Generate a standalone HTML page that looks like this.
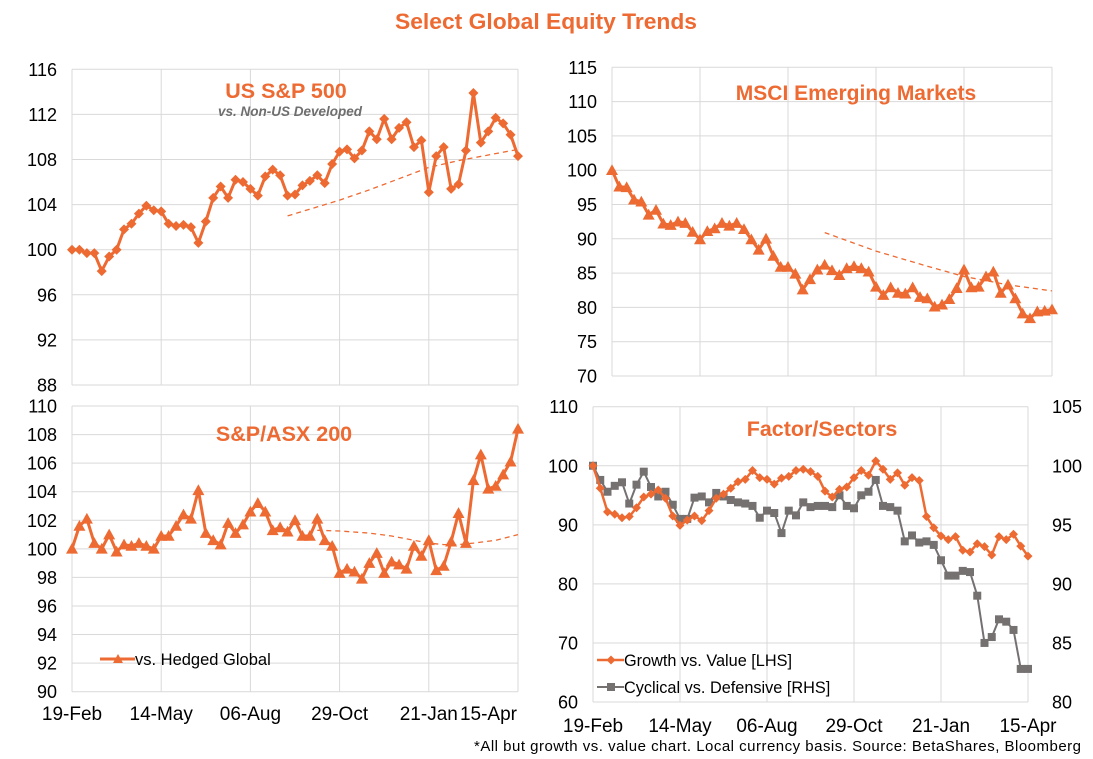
<!DOCTYPE html>
<html><head><meta charset="utf-8"><style>
html,body{margin:0;padding:0;background:#fff}
svg{display:block;font-family:"Liberation Sans",Arial,sans-serif}
</style></head><body>
<svg id="c" width="1093" height="759" viewBox="0 0 1093 759">
<text x="546" y="29" text-anchor="middle" font-size="22" font-weight="bold" fill="#ED6A32" textLength="302" lengthAdjust="spacingAndGlyphs">Select Global Equity Trends</text>
<text x="474" y="751" font-size="15" fill="#000" textLength="607" lengthAdjust="spacing">*All but growth vs. value chart.  Local currency basis.  Source: BetaShares, Bloomberg</text>
</svg>
<script>
const xTickLabels = ["19-Feb","14-May","06-Aug","29-Oct","21-Jan","15-Apr"];
const usSeries = [100,100,99.7,99.7,98.1,99.4,100,101.8,102.3,103.2,103.9,103.5,103.4,102.3,102.1,102.2,102,100.6,102.5,104.6,105.6,104.6,106.2,106,105.4,104.8,106.5,107.1,106.6,104.8,104.9,105.7,106.1,106.6,105.9,107.6,108.7,108.9,108.1,108.8,110.5,109.8,111.6,109.8,110.8,111.3,109.1,109.7,105.1,108.3,109.1,105.4,105.8,108.8,113.9,109.5,110.5,111.7,111.2,110.2,108.3];
const usTrendIdx = [29,33,36,40,44,48,52,56,60];
const usTrend = [103.0,103.8,104.4,105.3,106.3,107.3,107.9,108.4,108.9];
const emSeries = [100,97.6,97.5,95.7,95.4,93.5,94.2,92.2,92,92.5,92.3,91,89.9,91.1,91.5,92.3,91.9,92.3,91.4,89.9,88.4,90,87.5,85.9,85.9,84.9,82.6,84.1,85.5,86.2,85.4,84.7,85.7,86,85.7,85.2,83,81.8,82.9,82.1,82,82.9,81.5,81.3,80.1,80.4,81.2,82.8,85.5,82.9,83,84.5,85.2,82.1,83.3,81.3,79.1,78.4,79.4,79.5,79.7];
const emTrendIdx = [29,36,43,48,54,60];
const emTrend = [90.9,88.2,86.0,84.5,83.3,82.4];
const asxSeries = [100,101.6,102.1,100.4,100,101,99.8,100.3,100.2,100.4,100.2,100,100.9,100.9,101.6,102.4,102.1,104.1,101.1,100.6,100.3,101.8,101.1,101.7,102.6,103.2,102.6,101.3,101.5,101.2,102,100.9,100.9,102.1,100.6,100.2,98.3,98.6,98.4,97.9,99,99.7,98.3,99.1,98.9,98.6,100.2,99.5,100.6,98.5,98.8,100.5,102.5,100.4,104.8,106.6,104.2,104.4,105.2,106.1,108.4];
const asxTrendIdx = [33,36,40,43,46,48,50,52,54,57,60];
const asxTrend = [101.3,101.25,101.1,100.9,100.6,100.4,100.3,100.3,100.4,100.6,101.0];
const growthSeries = [100,96.2,92.2,91.8,91.2,91.4,92.9,94.7,95.2,95.9,94.5,91.5,89.9,90.8,91.5,90.7,92.4,94.5,95.2,96.2,97.3,97.7,99.2,98,97.7,96.9,97.9,98.2,99.2,99.4,99,98.2,95.7,94.7,96,96.4,98,99.2,98.4,100.8,99.4,97.7,98.8,96.7,98,97.5,91.4,89.5,88.1,87.5,88,85.7,85.4,86.8,86.3,84.9,88,87.5,88.4,86.4,84.7];
const cyclicalSeries = [100,98.8,97.8,98.3,98.6,96.8,98.4,99.5,98.2,97.4,97.8,96.7,95.5,95.5,97.3,97.4,96.9,97.7,97.4,97.1,96.9,96.8,96.6,95.6,96.2,96,94.3,96.2,95.8,96.9,96.5,96.6,96.6,96.5,97.5,96.6,96.4,97.5,97.8,98.8,96.6,96.5,96.2,93.6,94.1,93.5,93.6,93.3,92,90.7,90.7,91.1,91,89,85,85.5,87,86.8,86.1,82.8,82.8];

const NS="http://www.w3.org/2000/svg";
const svg=document.getElementById('c');
const OR="#ED6A32", GR="#767171", GRID="#D9D9D9";
function mk(tag,attrs,parent){const e=document.createElementNS(NS,tag);for(const k in attrs)e.setAttribute(k,attrs[k]);(parent||svg).appendChild(e);return e;}
function panel(p){
  const g=mk('g',{});
  
  
  const xs=i=>p.x0+(p.x1-p.x0)*i/60;
  const ys=v=>p.y0+(p.y1-p.y0)*(p.ymax-v)/(p.ymax-p.ymin);
  p.xs=xs;p.ys=ys;
  for(let v=p.ymin;v<=p.ymax+1e-9;v+=p.ystep){
    const l=mk('line',{x1:p.x0,x2:p.x1,y1:ys(v),y2:ys(v),stroke:GRID,'stroke-width':1},g);
    
    
    const t=mk('text',{x:p.lx,y:ys(v)+6.5,'text-anchor':'end','font-size':18,fill:'#000'},g);
    t.textContent=v;
    
    
  }
  for(let k=0;k<xTickLabels.length;k++){
    const x=xs(k*12);
    const l=mk('line',{x1:x,x2:x,y1:p.y0,y2:p.y1,stroke:GRID,'stroke-width':1},g);
    
    
    if(p.xlab){
      const last=(k===xTickLabels.length-1)&&p.lastEnd;
      const t=mk('text',{x:last?x-1:x,y:p.xlab,'text-anchor':last?'end':'middle','font-size':19,fill:'#000'},g);
      t.textContent=xTickLabels[k];
      
      
    }
  }
  return g;
}
function series(g,xs,ys,data,color,w,marker,ms,name){
  const pts=data.map((v,i)=>xs(i).toFixed(1)+','+ys(v).toFixed(1)).join(' ');
  const pl=mk('polyline',{points:pts,fill:'none',stroke:color,'stroke-width':w,'stroke-linejoin':'round'},g);
  
  
  data.forEach((v,i)=>{drawMarker(g,xs(i),ys(v),color,marker,ms,name);});
}
function drawMarker(g,x,y,color,marker,s,name){
  let m;
  if(marker==='d')m=mk('polygon',{points:`${x},${y-s} ${x+s},${y} ${x},${y+s} ${x-s},${y}`,fill:color},g);
  else if(marker==='t')m=mk('polygon',{points:`${x},${y-s} ${x+s},${y+s*0.8} ${x-s},${y+s*0.8}`,fill:color},g);
  else m=mk('rect',{x:x-s,y:y-s,width:2*s,height:2*s,fill:color},g);
  
  
}
function trend(g,xs,ys,idx,vals,name){
  const pts=idx.map((i,k)=>xs(i).toFixed(1)+','+ys(vals[k]).toFixed(1)).join(' ');
  const pl=mk('polyline',{points:pts,fill:'none',stroke:OR,'stroke-width':1.3,'stroke-dasharray':'5,4'},g);
  
  
}
function title(g,x,y,txt,size,extra,name){
  const t=mk('text',Object.assign({x:x,y:y,'text-anchor':'middle','font-size':size,'font-weight':'bold',fill:OR},extra||{}),g);
  t.textContent=txt;
  
  
}
// Panel 1
let p1={name:'us-sp500-panel',x0:72,x1:518,y0:69.3,y1:385,ymin:88,ymax:116,ystep:4,lx:57};
let g1=panel(p1);
trend(g1,p1.xs,p1.ys,usTrendIdx,usTrend,'us-trendline');
series(g1,p1.xs,p1.ys,usSeries,OR,3,'d',5,'us-sp500');
title(g1,286,98,'US  S&P 500',21.5,{},'us-panel-title');
title(g1,290,116,'vs. Non-US Developed',13.5,{fill:'#6E6E6E','font-style':'italic'},'us-panel-subtitle');
// Panel 2
let p2={name:'msci-em-panel',x0:612,x1:1052,y0:67.3,y1:376,ymin:70,ymax:115,ystep:5,lx:597};
let g2=panel(p2);
trend(g2,p2.xs,p2.ys,emTrendIdx,emTrend,'em-trendline');
series(g2,p2.xs,p2.ys,emSeries,OR,3,'t',6,'msci-em');
title(g2,856,100,'MSCI Emerging Markets',21,{},'em-panel-title');
// Panel 3
let p3={name:'asx200-panel',x0:72,x1:518,y0:406,y1:691.7,ymin:90,ymax:110,ystep:2,lx:57,xlab:720,lastEnd:true};
let g3=panel(p3);
trend(g3,p3.xs,p3.ys,asxTrendIdx,asxTrend,'asx-trendline');
series(g3,p3.xs,p3.ys,asxSeries,OR,3,'t',6,'asx200');
title(g3,284,441,'S&P/ASX 200',21.5,{},'asx-panel-title');
let ll=mk('line',{x1:100,x2:135,y1:659,y2:659,stroke:OR,'stroke-width':3},g3);


drawMarker(g3,118,659,OR,'t',5,'legend-asx');
let lt=mk('text',{x:135,y:665,'font-size':16.5,fill:'#000'},g3);lt.textContent='vs. Hedged Global';


// Panel 4
let p4={name:'factor-sectors-panel',x0:593,x1:1028,y0:406.7,y1:702,ymin:60,ymax:110,ystep:10,lx:578,xlab:732};
let g4=panel(p4);
const ysR=v=>p4.y0+(p4.y1-p4.y0)*(105-v)/25;
for(let v=80;v<=105;v+=5){
  const t=mk('text',{x:1052,y:ysR(v)+6.5,'font-size':18,fill:'#000'},g4);t.textContent=v;
  
  
}
series(g4,p4.xs,ysR,cyclicalSeries,GR,2,'s',4,'cyclical-defensive');
series(g4,p4.xs,p4.ys,growthSeries,OR,2.5,'d',4.5,'growth-value');
title(g4,822,436,'Factor/Sectors',21.5,{},'factor-panel-title');
let l1=mk('line',{x1:597,x2:624,y1:660,y2:660,stroke:OR,'stroke-width':2.5},g4);


drawMarker(g4,611,660,OR,'d',4.5,'legend-growth');
let t1=mk('text',{x:624,y:666,'font-size':16.3,fill:'#000'},g4);t1.textContent='Growth vs. Value [LHS]';


let l2=mk('line',{x1:597,x2:624,y1:687,y2:687,stroke:GR,'stroke-width':2},g4);


drawMarker(g4,611,687,GR,'s',4,'legend-cyclical');
let t2=mk('text',{x:624,y:693,'font-size':16.3,fill:'#000'},g4);t2.textContent='Cyclical vs. Defensive [RHS]';


</script>
</body></html>
